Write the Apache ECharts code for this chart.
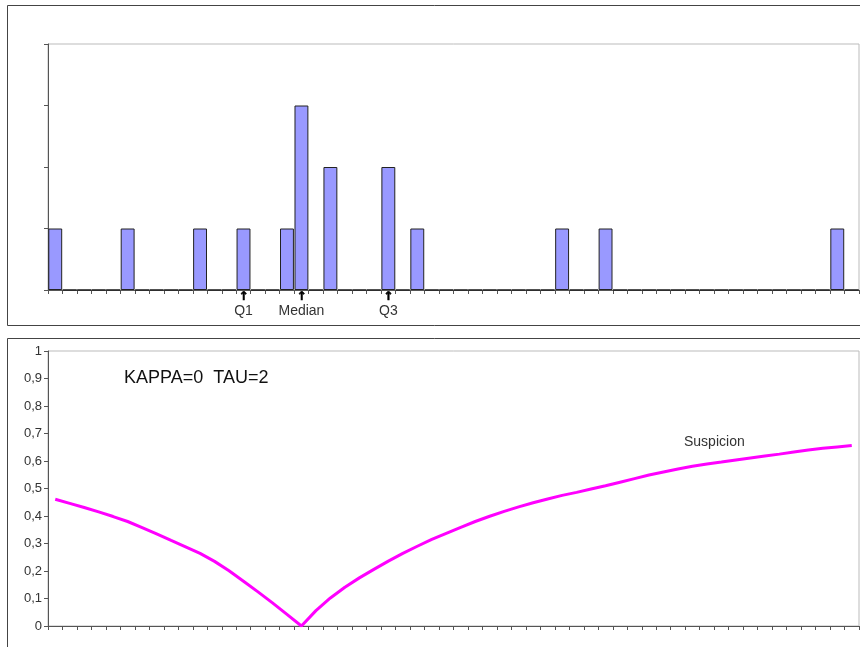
<!DOCTYPE html>
<html>
<head>
<meta charset="utf-8">
<script src="https://cdn.jsdelivr.net/npm/echarts@6/dist/echarts.min.js"></script>
<style>
  html, body { margin: 0; padding: 0; background: #fff; }
  #chart { width: 860px; height: 647px; }
</style>
</head>
<body>
<div id="chart"></div>
<script>
// ******* Data *******
var categories = [1, 2, 3, 4, 5, 6, 7, 8, 9, 10, 11, 12, 13, 14, 15, 16, 17, 18, 19, 20,
    21, 22, 23, 24, 25, 26, 27, 28, 29, 30, 31, 32, 33, 34, 35, 36, 37, 38, 39, 40,
    41, 42, 43, 44, 45, 46, 47, 48, 49, 50, 51, 52, 53, 54, 55, 56];

// histogram counts per bin
var counts = [1, 0, 0, 0, 0, 1, 0, 0, 0, 0, 1, 0, 0, 1, 0, 0, 1, 3, 0, 2,
    0, 0, 0, 2, 0, 1, 0, 0, 0, 0, 0, 0, 0, 0, 0, 1, 0, 0, 1, 0,
    0, 0, 0, 0, 0, 0, 0, 0, 0, 0, 0, 0, 0, 0, 1, 0];

// suspicion curve, KAPPA=0 TAU=2
var suspicion = [0.461, 0.446, 0.431, 0.415, 0.398, 0.380, 0.358, 0.335, 0.311, 0.288,
    0.264, 0.235, 0.201, 0.163, 0.124, 0.084, 0.042, 0.000, 0.056, 0.102,
    0.141, 0.175, 0.206, 0.236, 0.264, 0.290, 0.315, 0.337, 0.359, 0.380,
    0.399, 0.417, 0.433, 0.448, 0.462, 0.475, 0.486, 0.498, 0.510, 0.523,
    0.536, 0.549, 0.560, 0.571, 0.581, 0.589, 0.596, 0.604, 0.611, 0.618,
    0.625, 0.633, 0.640, 0.646, 0.651, 0.656];

// quartile markers under the histogram
var markerIndex = [13, 17, 23];
var markerText = ['Q1', 'Median', 'Q3'];

var yTickLabels = ['0', '0,1', '0,2', '0,3', '0,4', '0,5', '0,6', '0,7', '0,8', '0,9', '1'];

var FONT = '"Liberation Sans", Arial, sans-serif';
var AXIS = '#555';

var myChart = echarts.init(document.getElementById('chart'), null, {renderer: 'canvas'});

var option = {
    animation: false,
    backgroundColor: '#fff',
    textStyle: {fontFamily: FONT},
    graphic: [
        // panel frames
        {type: 'rect', shape: {x: 7.5, y: 5.5, width: 860, height: 320}, style: {fill: 'none', stroke: '#444', lineWidth: 1}, z: -1},
        {type: 'rect', shape: {x: 7.5, y: 338.5, width: 860, height: 320}, style: {fill: 'none', stroke: '#444', lineWidth: 1}, z: -1},
        {type: 'text', left: 124, top: 369, style: {text: 'KAPPA=0  TAU=2', font: '18px ' + FONT, fill: '#111'}},
        {type: 'text', left: 684, top: 435, style: {text: 'Suspicion', font: '14px ' + FONT, fill: '#333'}}
    ],
    grid: [
        {left: 48, right: 1, top: 44, bottom: 357, show: true, borderColor: '#bbb', borderWidth: 1},
        {left: 48, right: 1, top: 351, bottom: 21, show: true, borderColor: '#bbb', borderWidth: 1}
    ],
    xAxis: [
        {
            type: 'category', gridIndex: 0, data: categories, boundaryGap: true,
            axisLine: {lineStyle: {color: AXIS, width: 1}},
            axisTick: {show: true, interval: 0, length: 4, lineStyle: {color: AXIS}},
            axisLabel: {
                interval: 0, margin: 2,
                formatter: function (value, index) {
                    var k = markerIndex.indexOf(index);
                    if (k < 0) return '';
                    return '{a|\u2191}\n{b|' + markerText[k] + '}';
                },
                rich: {
                    a: {fontSize: 12, fontWeight: 'bold', color: '#000', lineHeight: 10, fontFamily: 'DejaVu Sans',
                        textBorderColor: '#000', textBorderWidth: 0.6},
                    b: {fontSize: 14, color: '#333', lineHeight: 18, fontFamily: FONT}
                }
            }
        },
        {
            type: 'category', gridIndex: 1, data: categories, boundaryGap: true,
            axisLine: {lineStyle: {color: AXIS, width: 1}},
            axisTick: {show: true, interval: 0, length: 4, lineStyle: {color: AXIS}},
            axisLabel: {show: false}
        }
    ],
    yAxis: [
        {
            type: 'value', gridIndex: 0, min: 0, max: 4, interval: 1,
            axisLine: {show: true, lineStyle: {color: AXIS}},
            axisTick: {show: true, length: 4, lineStyle: {color: AXIS}},
            axisLabel: {show: false},
            splitLine: {show: false}
        },
        {
            type: 'value', gridIndex: 1, min: 0, max: 1, interval: 0.1,
            axisLine: {show: true, lineStyle: {color: AXIS}},
            axisTick: {show: true, length: 4, lineStyle: {color: AXIS}},
            axisLabel: {
                color: '#333', fontSize: 13, margin: 6, fontFamily: FONT,
                formatter: function (value) {
                    return yTickLabels[Math.round(value * 10)];
                }
            },
            splitLine: {show: false}
        }
    ],
    series: [
        {
            type: 'bar', xAxisIndex: 0, yAxisIndex: 0, data: counts,
            barCategoryGap: '4%',
            itemStyle: {color: '#9999ff', borderColor: '#222', borderWidth: 1}
        },
        {
            type: 'line', xAxisIndex: 1, yAxisIndex: 1, data: suspicion,
            showSymbol: false, symbol: 'none', smooth: false,
            lineStyle: {color: '#ff00ff', width: 3}
        }
    ]
};

myChart.setOption(option);
</script>
</body>
</html>
